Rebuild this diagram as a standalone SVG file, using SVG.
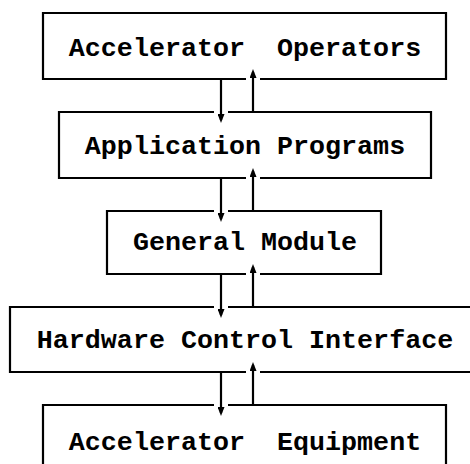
<svg xmlns="http://www.w3.org/2000/svg" width="470" height="464" viewBox="0 0 470 464">
<style>
.box{fill:none;stroke:#000;stroke-width:2.2;stroke-linejoin:miter}
.lbl{font-family:"Liberation Mono","Courier New",monospace;font-weight:bold;font-size:26.7px;fill:#000;text-anchor:middle;white-space:pre}
.ln{stroke:#000;stroke-width:2.2;fill:none}
</style>
<defs>
<marker id="ah" viewBox="0 0 9 7" refX="6" refY="3.5" markerWidth="9" markerHeight="7" markerUnits="userSpaceOnUse" orient="auto">
<path d="M0,0 L9,3.5 L0,7 Z" fill="#000"/>
</marker>
</defs>
<rect width="470" height="464" fill="#fff"/>
<g id="n1">
<path class="box" d="M246,79 H43 V13 H446 V79 H260"/>
<text class="lbl" x="245" y="56" xml:space="preserve">Accelerator  Operators</text>
</g>
<g id="n2">
<path class="box" d="M214,112 H59 V178 H246 M260,178 H431 V112 H228"/>
<text class="lbl" x="245" y="154">Application Programs</text>
</g>
<g id="n3">
<path class="box" d="M214,211 H107 V274 H246 M260,274 H381 V211 H228"/>
<text class="lbl" x="245" y="250">General Module</text>
</g>
<g id="n4">
<path class="box" d="M214,307 H10 V372 H246 M260,372 H472 M472,307 H228"/>
<text class="lbl" x="245" y="348">Hardware Control Interface</text>
</g>
<g id="n5">
<path class="box" d="M214,405 H43 V470 M446,470 V405 H228"/>
<text class="lbl" x="245" y="450" xml:space="preserve">Accelerator  Equipment</text>
</g>
<g id="connectors">
<line class="ln" x1="221" y1="79" x2="221" y2="120" marker-end="url(#ah)"/>
<line class="ln" x1="253" y1="112" x2="253" y2="72" marker-end="url(#ah)"/>
<line class="ln" x1="221" y1="178" x2="221" y2="219" marker-end="url(#ah)"/>
<line class="ln" x1="253" y1="211" x2="253" y2="171" marker-end="url(#ah)"/>
<line class="ln" x1="221" y1="274" x2="221" y2="315" marker-end="url(#ah)"/>
<line class="ln" x1="253" y1="307" x2="253" y2="267" marker-end="url(#ah)"/>
<line class="ln" x1="221" y1="372" x2="221" y2="413" marker-end="url(#ah)"/>
<line class="ln" x1="253" y1="405" x2="253" y2="365" marker-end="url(#ah)"/>
</g>
</svg>
